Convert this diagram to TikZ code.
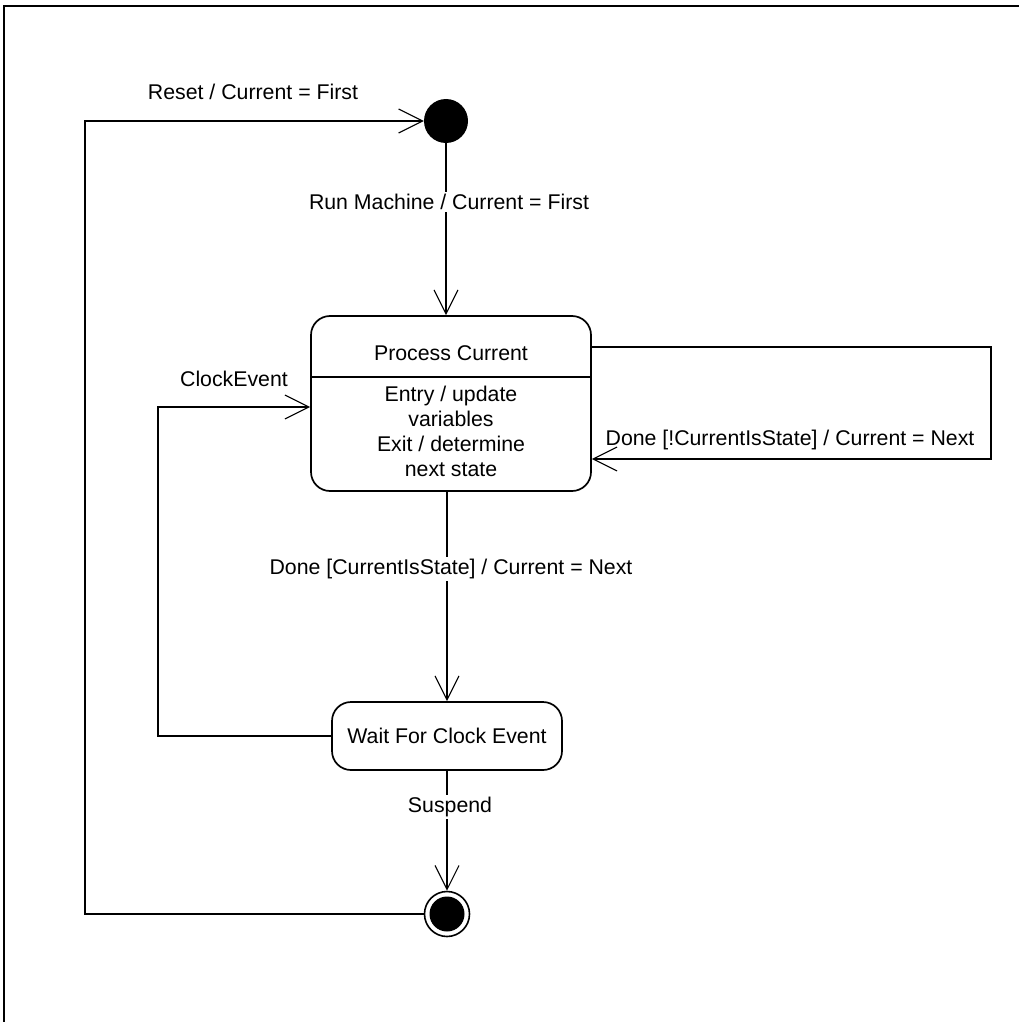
\documentclass[tikz,border=0pt]{standalone}
\usepackage{fontspec}
\setmainfont{Liberation Sans}
\usetikzlibrary{positioning, arrows.meta}

\begin{document}
\begin{tikzpicture}[
    x=1pt, y=-1pt,
    >={Straight Barb[length=24pt, width=24pt]},
    conn/.style={line width=1.1pt},
    state/.style={draw, line width=1.7pt, rounded corners=19pt,
                  font=\fontsize{21.3pt}{25pt}\selectfont},
    lbl/.style={font=\fontsize{21.3pt}{25pt}\selectfont, inner sep=2pt},
    cutlbl/.style={lbl, fill=white},
]
\useasboundingbox (0,0) rectangle (1019,1022);
% frame, only the top and left edges are in view
\draw[line width=2pt] (4,1022) -- (4,6) -- (1019,6);

% states
\node[circle, fill=black, minimum size=44pt, inner sep=0pt] (init) at (446,121) {};
\node[state, minimum width=280pt, minimum height=175pt] (proc) at (451,403.5) {};
\node[lbl] (procTitle) at (451,353) {Process Current};
\node[lbl, align=center] (procBody) at (451,431) {Entry / update\\variables\\Exit / determine\\next state};
\draw[line width=1.7pt] (proc.west |- 0,377) -- (proc.east |- 0,377);
\node[state, minimum width=230pt, minimum height=68pt] (wait) at (447,736) {Wait For Clock Event};
\node[circle, draw, line width=1.6pt, minimum size=45pt, inner sep=0pt,
      path picture={\fill (path picture bounding box.center) circle (17.5pt);}]
      (final) at (447,914) {};

% corner points of the bent transitions
\coordinate (loopTR) at (991,347);
\coordinate (loopBR) at (991,459);
\coordinate (clkBL) at (158,736);
\coordinate (clkTL) at (158,407);
\coordinate (rstB) at (85,914);
\coordinate (rstT) at (85,121);

% transitions
\draw[conn, ->] (init) -- (proc.north -| init);
\draw[conn, ->] (proc.south -| wait) -- (wait);
\draw[conn, ->] (wait) -- (final);
\draw[conn, ->] (proc.east |- loopTR) -- (loopTR) -- (loopBR) -- (proc.east |- loopBR);
\draw[conn, ->] (wait.west) -- (clkBL) -- (clkTL) -- (proc.west |- clkTL);
\draw[conn, ->] (final.west) -- (rstB) -- (rstT) -- (init.west);

% transition labels
\node[cutlbl] (runLbl) at (449,202) {Run Machine / Current = First};
\node[cutlbl] (doneLbl) at (451,569) {Done [CurrentIsState] / Current = Next};
\node[cutlbl] (suspLbl) at (450,807) {Suspend};
\node[lbl] (loopLbl) at (790,440) {Done [!CurrentIsState] / Current = Next};
\node[lbl] (clkLbl) at (234,379) {ClockEvent};
\node[lbl] (rstLbl) at (253,92) {Reset / Current = First};
\end{tikzpicture}
\end{document}
